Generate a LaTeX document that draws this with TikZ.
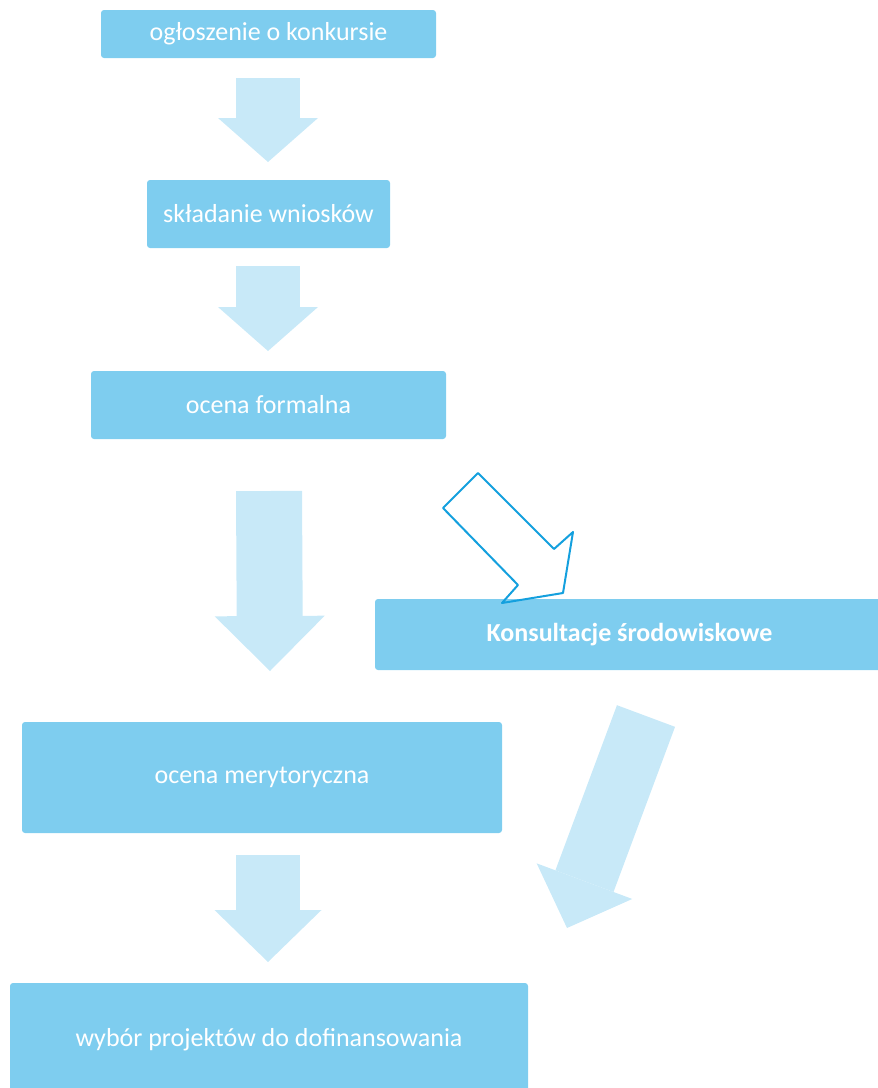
\documentclass[tikz,border=0pt]{standalone}
\usepackage{fontspec}
\setmainfont{Carlito}
\usetikzlibrary{arrows.meta}
\definecolor{boxblue}{RGB}{126,205,239}
\definecolor{arrowblue}{RGB}{200,233,248}
\definecolor{lineblue}{RGB}{20,160,222}
\begin{document}
\begin{tikzpicture}[
                            x=1pt, y=-1pt,
                            box/.style={fill=boxblue, rounded corners=3pt, text=white, font=\fontsize{26}{30}\selectfont, inner sep=0pt},
                            blockarrow/.style={draw=arrowblue, line width=#1},
                            blockarrow/.default=64pt
                            ]

                            \useasboundingbox (0,0) rectangle (878,1088);

                            \node [box, minimum width=335pt, minimum height=48pt] (ogloszenie) at (268.5,34) {ogłoszenie o konkursie};
                            \node [box, minimum width=243pt, minimum height=68pt] (skladanie) at (268.5,214) {składanie wniosków};
                            \node [box, minimum width=355pt, minimum height=68pt] (formalna) at (268.5,405) {ocena formalna};
                            \node [box, minimum width=509pt, minimum height=71pt, font=\fontsize{26}{30}\selectfont\bfseries] (konsultacje) at (629.5,634.5) {Konsultacje środowiskowe};
                            \node [box, minimum width=480pt, minimum height=111pt] (merytoryczna) at (262,777.5) {ocena merytoryczna};
                            \node [box, minimum width=518pt, minimum height=114pt] (wybor) at (269,1040) {wybór projektów do dofinansowania};

                            \coordinate (a1s) at (268,78);
                            \coordinate (a1e) at (268,162);
                            \coordinate (a2s) at (268,266);
                            \coordinate (a2e) at (268,351);
                            \coordinate (a3s) at (269,491);
                            \coordinate (a3e) at (270,671);
                            \coordinate (a4s) at (268,855);
                            \coordinate (a4e) at (268,962);
                            \coordinate (a5s) at (646,716);
                            \coordinate (a5e) at (567,928);

                            \draw[blockarrow, -{Triangle[width=100pt,length=44pt,line width=0pt]}] (a1s) -- (a1e);
                            \draw[blockarrow, -{Triangle[width=100pt,length=44pt,line width=0pt]}] (a2s) -- (a2e);
                            \draw[blockarrow=66pt, -{Triangle[width=110pt,length=55pt,line width=0pt]}] (a3s) -- (a3e);
                            \draw[blockarrow, -{Triangle[width=107pt,length=52pt,line width=0pt]}] (a4s) -- (a4e);
                            \draw[blockarrow=62pt, -{Triangle[width=102pt,length=50pt,line width=0pt]}] (a5s) -- (a5e);

                            \draw[lineblue, line width=2pt, line join=round] (478,473) -- (443,508) -- (518,585) -- (502,603) -- (563,593) -- (573,532) -- (554,549) -- cycle;
                        \end{tikzpicture}
\end{document}
